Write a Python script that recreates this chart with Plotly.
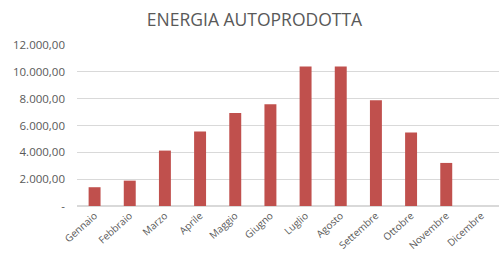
import plotly.graph_objects as go

mesi = ["Gennaio", "Febbraio", "Marzo", "Aprile", "Maggio", "Giugno", "Luglio",
        "Agosto", "Settembre", "Ottobre", "Novembre", "Dicembre"]
energia = [1400, 1890, 4130, 5560, 6930, 7590, 10400, 10400, 7890, 5480, 3210, 0]
y_ticks = [0, 2000, 4000, 6000, 8000, 10000, 12000]
y_labels = ["-", "2.000,00", "4.000,00", "6.000,00", "8.000,00", "10.000,00", "12.000,00"]

fig = go.Figure(go.Bar(x=mesi, y=energia, marker_color="#C0504D", marker_line_width=0))

fig.update_layout(
    width=504, height=253,
    margin=dict(l=77, r=5, t=45, b=47, autoexpand=False),
    paper_bgcolor="white", plot_bgcolor="white",
    bargap=0.66,
    showlegend=False,
    title=dict(text="ENERGIA AUTOPRODOTTA", x=0.505, xanchor="center", y=0.921, yref="container",
               yanchor="middle", automargin=False,
               font=dict(family="Open Sans", size=17.5, color="#595959")),
    font=dict(family="Open Sans", size=11, color="#595959"),
)
fig.update_xaxes(tickangle=-42, showline=False, ticks="", automargin=False,
                 ticklabelstandoff=1,
                 tickfont=dict(size=10, color="#595959"))
fig.update_yaxes(range=[0, 12000], tickvals=y_ticks, ticktext=y_labels, automargin=False,
                 showgrid=True, gridcolor="#D9D9D9", gridwidth=1, zeroline=True,
                 zerolinecolor="#D9D9D9", ticks="", ticklen=0, ticklabelstandoff=11,
                 tickfont=dict(size=11.5, color="#595959"))

fig.write_html("out.html", config={"displayModeBar": False},
               post_script="document.body.style.margin='0';document.body.style.overflow='hidden';")
